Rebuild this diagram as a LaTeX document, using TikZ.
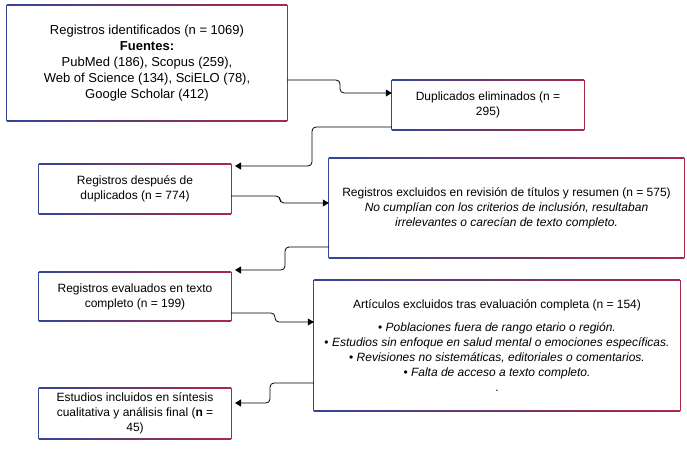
\documentclass[tikz,border=0pt]{standalone}
\usepackage{fontspec}
\setmainfont{Liberation Sans}
\usetikzlibrary{arrows.meta}
\definecolor{frameblue}{RGB}{50,70,150}
\definecolor{framered}{RGB}{170,40,70}
\tikzset{
  box/.style={draw=none,align=center,inner sep=2pt,font=\fontsize{12}{15}\selectfont},
  link/.style={-{Triangle[length=6pt,width=7pt]},line width=0.8pt,rounded corners=4pt}
}
\begin{document}
\begin{tikzpicture}[x=1pt,y=-1pt]
\useasboundingbox (0,0) rectangle (687,461);
% boxes
\node[box,minimum width=280,minimum height=116,font=\fontsize{13}{16}\selectfont] (ident) at (147,63)
  {Registros identificados (n = 1069)\\\textbf{Fuentes:}\\PubMed (186), Scopus (259),\\Web of Science (134), SciELO (78),\\Google Scholar (412)};
\node[box,minimum width=192,minimum height=50] (dup) at (488,105)
  {Duplicados eliminados (n =\\295)};
\node[box,minimum width=192,minimum height=50] (after) at (135,189)
  {Registros después de\\duplicados (n = 774)};
\node[box,minimum width=355,minimum height=100] (excl) at (506.5,208)
  {Registros excluidos en revisión de títulos y resumen (n = 575)\\
   \textit{No cumplían con los criterios de inclusión, resultaban}\\\textit{irrelevantes o carecían de texto completo.}};
\node[box,minimum width=192,minimum height=49] (full) at (135,296.5)
  {Registros evaluados en texto\\completo (n = 199)};
\node[box,minimum width=366,minimum height=131] (art) at (497,345.5)
  {Artículos excluidos tras evaluación completa (n = 154)\\[8pt]
   • \textit{Poblaciones fuera de rango etario o región.}\\
   • \textit{Estudios sin enfoque en salud mental o emociones específicas.}\\
   • \textit{Revisiones no sistemáticas, editoriales o comentarios.}\\
   • \textit{Falta de acceso a texto completo.}\\.};
\node[box,minimum width=192,minimum height=51] (incl) at (135,413.5)
  {Estudios incluidos en síntesis\\cualitativa y análisis final (\textbf{n} =\\45)};
% frames
\foreach \n in {ident,dup,after,excl,full,art,incl}{
  \shade[left color=frameblue,right color=framered] (\n.north west) rectangle ([yshift=-1pt]\n.north east);
  \shade[left color=frameblue,right color=framered] ([yshift=1pt]\n.south west) rectangle (\n.south east);
  \draw[frameblue,line width=1pt] (\n.north west) -- (\n.south west);
  \draw[framered,line width=1pt] (\n.north east) -- (\n.south east);
}
% connectors
\coordinate (t1) at (235,166);
\coordinate (t2) at (235,270);
\coordinate (t3) at (235,403);
\draw[link] (ident.east |- 0,80) -- (340,80) -- (340,93) -- (dup.west |- 0,93);
\draw[link] (dup.west |- 0,127) -- (312,127) -- (312,166) -- (t1);
\draw[link] (after.east |- 0,196) -- (280,196) -- (280,203) -- (excl.west |- 0,203);
\draw[link] (excl.west |- 0,247) -- (285,247) -- (285,270) -- (t2);
\draw[link] (full.east |- 0,313) -- (275,313) -- (275,322) -- (art.west |- 0,322);
\draw[link] (art.west |- 0,383) -- (270,383) -- (270,403) -- (t3);
\end{tikzpicture}
\end{document}
